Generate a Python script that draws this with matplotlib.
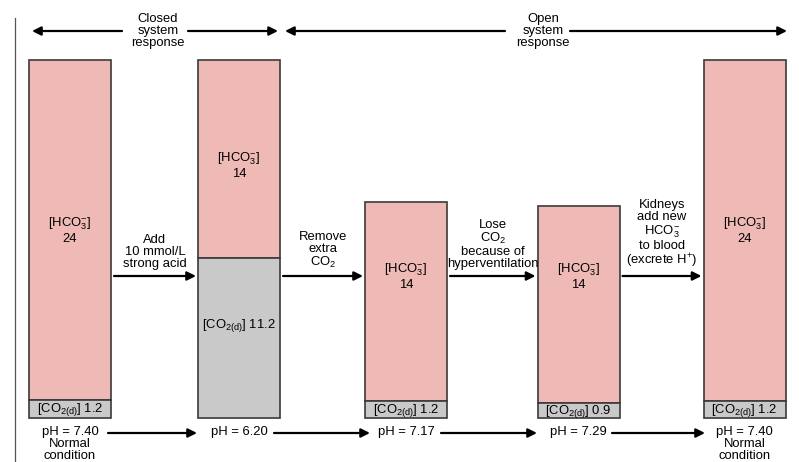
import matplotlib.pyplot as plt

plt.rcParams['font.family'] = ['Liberation Sans', 'DejaVu Sans']
plt.rcParams['mathtext.fontset'] = 'custom'
plt.rcParams['mathtext.rm'] = 'Liberation Sans'
plt.rcParams['mathtext.it'] = 'Liberation Sans:italic'

# values shown in the diagram
hco3 = [24, 14, 14, 14, 24]
co2 = [1.2, 11.2, 1.2, 0.9, 1.2]
ph = [7.40, 6.20, 7.17, 7.29, 7.40]
steps = ['Add\n10 mmol/L\nstrong acid',
         'Remove\nextra\nCO$_2$',
         'Lose\nCO$_2$\nbecause of\nhyperventilation',
         'Kidneys\nadd new\nHCO$_3^{-}$\nto blood\n(excrete H$^{+}$)']

# layout (pixel coordinates, y down)
xc = [70, 239, 406, 578.5, 744.5]
bw = 82
tops = [60, 60, 202, 206, 60]
splits = [400, 258, 401, 403, 401]
base = 418
pink = '#efbab5'
grey = '#c9c9c9'
edge = '#3a3a3a'
fs = 9.4

fig = plt.figure(figsize=(7.99, 4.62), dpi=100)
ax = fig.add_axes([0, 0, 1, 1])
ax.set_xlim(0, 799)
ax.set_ylim(462, 0)
ax.axis('off')

ax.plot([15, 15], [18, 462], color='#555555', lw=0.9)

heads = dict(arrowstyle='-|>', color='black', lw=1.6, mutation_scale=13, shrinkA=0, shrinkB=0)

for i in range(5):
    ax.bar(xc[i], splits[i] - tops[i], bottom=tops[i], width=bw,
           color=pink, edgecolor=edge, linewidth=1.2)
    ax.bar(xc[i], base - splits[i], bottom=splits[i], width=bw,
           color=grey, edgecolor=edge, linewidth=1.2)
    ymid = (tops[i] + splits[i]) / 2 if i != 1 else 165
    if i in (2, 3):
        ymid = 276
    ax.text(xc[i], ymid, '[HCO$_3^{-}$]\n%d' % hco3[i], ha='center', va='center',
            fontsize=fs, linespacing=1.1)
    ycl = (splits[i] + base) / 2 + 1 if i != 1 else 326
    ax.text(xc[i], ycl, r'[CO$_{\mathrm{2(d)}}$] %.1f' % co2[i], ha='center', va='center', fontsize=fs)
    lab = 'pH = %.2f' % ph[i]
    if i in (0, 4):
        lab += '\nNormal\ncondition'
    ax.text(xc[i], 426, lab, ha='center', va='top', fontsize=fs, linespacing=0.98)

# step arrows between columns
for i in range(4):
    x0 = xc[i] + bw / 2 + 3
    x1 = xc[i + 1] - bw / 2 - 2
    ax.annotate('', xy=(x1, 276), xytext=(x0, 276), arrowprops=heads)
    ax.text((x0 + x1) / 2, 270, steps[i], ha='center', va='bottom', fontsize=fs, linespacing=1.0)

# pH arrows
ph_arrows = [(108, 197), (274, 370), (441, 537), (612, 705)]
for a, b in ph_arrows:
    ax.annotate('', xy=(b, 433), xytext=(a, 433), arrowprops=heads)

# top system response arrows
ax.annotate('', xy=(32, 31), xytext=(122, 31), arrowprops=heads)
ax.annotate('', xy=(278, 31), xytext=(188, 31), arrowprops=heads)
ax.text(158, 31, 'Closed\nsystem\nresponse', ha='center', va='center', fontsize=fs, linespacing=1.05)
ax.annotate('', xy=(285, 31), xytext=(505, 31), arrowprops=heads)
ax.annotate('', xy=(787, 31), xytext=(570, 31), arrowprops=heads)
ax.text(543, 31, 'Open\nsystem\nresponse', ha='center', va='center', fontsize=fs, linespacing=1.05)

fig.savefig('out.png', dpi=100)
